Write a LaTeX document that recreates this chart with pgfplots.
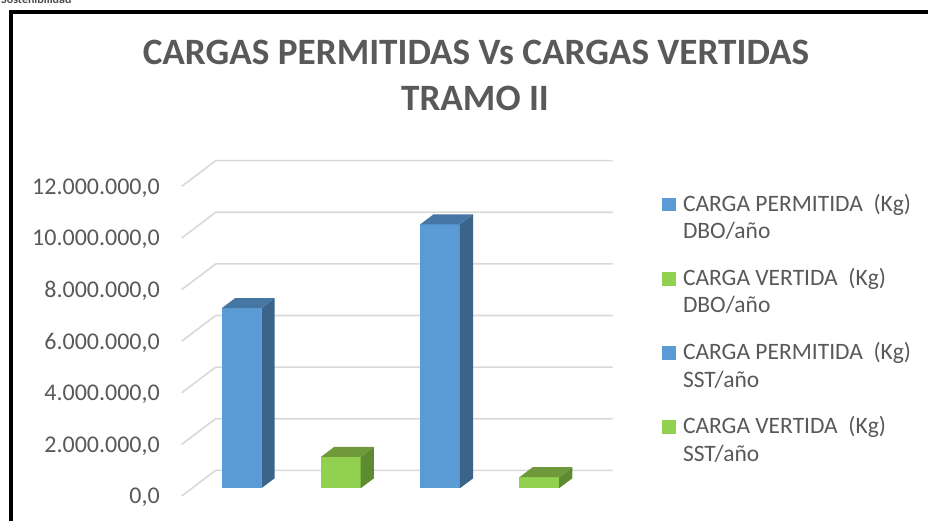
\documentclass[border=0pt]{standalone}
\usepackage{pgfplots}
\pgfplotsset{compat=1.18}
\usepackage{fontspec}
\setmainfont{Carlito}
\definecolor{txt}{HTML}{595959}
\definecolor{gridc}{HTML}{D9D9D9}
\definecolor{bluef}{HTML}{5B9BD5}
\definecolor{blues}{HTML}{3B6488}
\definecolor{bluet}{HTML}{4676A4}
\definecolor{greenf}{HTML}{92D050}
\definecolor{greens}{HTML}{5E8B2F}
\definecolor{greent}{HTML}{70993B}

% 3D-looking column: #1 left x (px), #2 value (millions), #3 front, #4 side, #5 top
\newcommand\threedbar[5]{%
  \pgfmathsetmacro\xa{#1}%
  \pgfmathsetmacro\xb{#1+39.6}%
  \pgfmathsetmacro\xc{#1+39.6+13.3}%
  \pgfmathsetmacro\xd{#1+13.3}%
  \pgfmathsetmacro\ya{0.298}%
  \pgfmathsetmacro\yb{0.298+0.388}%
  \pgfmathsetmacro\yt{0.298+#2}%
  \pgfmathsetmacro\ytt{0.298+0.388+#2}%
  \edef\doit{%
    \noexpand\addplot[forget plot, fill=#3, draw=none] coordinates {(\xa,\ya) (\xb,\ya) (\xb,\yt) (\xa,\yt)} -- cycle;
    \noexpand\addplot[forget plot, fill=#4, draw=none] coordinates {(\xb,\ya) (\xc,\yb) (\xc,\ytt) (\xb,\yt)} -- cycle;
    \noexpand\addplot[forget plot, fill=#5, draw=none] coordinates {(\xa,\yt) (\xb,\yt) (\xc,\ytt) (\xd,\ytt)} -- cycle;
  }\doit}

\begin{document}
\begin{tikzpicture}
\useasboundingbox (0pt,0pt) rectangle (928pt,521pt);
\clip (0pt,0pt) rectangle (928pt,521pt);
\fill[white] (0pt,0pt) rectangle (928pt,521pt);
\begin{axis}[
  at={(0pt,0pt)}, anchor=south west,
  scale only axis, width=928pt, height=521pt,
  xmin=0, xmax=928, ymin=-0.969, ymax=19.225,
  clip=false,
  axis line style={draw=none},
  xtick=\empty,
  ytick={0,2,4,6,8,10,12},
  yticklabels={{0,0},{2.000.000,0},{4.000.000,0},{6.000.000,0},{8.000.000,0},{10.000.000,0},{12.000.000,0}},
  major tick length=0pt,
  yticklabel style={anchor=east, inner sep=0pt, xshift=160pt, yshift=-1.5pt,
    font=\fontsize{24}{28}\selectfont, text=txt},
  legend style={at={(rel axis cs:0.71336,0.63493)}, anchor=north west,
    draw=none, fill=none, inner sep=0pt, outer sep=0pt, row sep=49.6pt,
    font=\fontsize{23.5}{27.3}\selectfont, text=txt,
    cells={anchor=base west, inner sep=0pt},
    /tikz/every odd column/.style={column sep=5pt}},
  legend image code/.code={\fill[#1] (0pt,0pt) rectangle (14pt,13.5pt);},
]
\addlegendimage{fill=bluef, draw=none}
\addlegendentry{\begin{tabular}[t]{@{}l@{}}CARGA PERMITIDA\ \ (Kg)\\DBO/año\end{tabular}}
\addlegendimage{fill=greenf, draw=none}
\addlegendentry{\begin{tabular}[t]{@{}l@{}}CARGA VERTIDA\ \ (Kg)\\DBO/año\end{tabular}}
\addlegendimage{fill=bluef, draw=none}
\addlegendentry{\begin{tabular}[t]{@{}l@{}}CARGA PERMITIDA\ \ (Kg)\\SST/año\end{tabular}}
\addlegendimage{fill=greenf, draw=none}
\addlegendentry{\begin{tabular}[t]{@{}l@{}}CARGA VERTIDA\ \ (Kg)\\SST/año\end{tabular}}

% gridlines: front-left diagonal plus back wall
\pgfplotsinvokeforeach{0,2,...,12}{%
  \pgfmathsetmacro\yg{#1+0.996}%
  \edef\doit{\noexpand\addplot[forget plot, gridc, line width=1.6pt] coordinates {(181.7,#1) (215.7,\yg) (612.7,\yg)};}\doit
}

% bars (values in millions of kg/year)
\threedbar{221.7}{6.98}{bluef}{blues}{bluet}
\threedbar{321.0}{1.22}{greenf}{greens}{greent}
\threedbar{420.2}{10.23}{bluef}{blues}{bluet}
\threedbar{519.4}{0.43}{greenf}{greens}{greent}
\end{axis}

% title
\node[anchor=base, text=txt, font=\fontsize{37.2}{46}\selectfont\bfseries] at (476pt,456pt) {CARGAS PERMITIDAS Vs CARGAS VERTIDAS};
\node[anchor=base, text=txt, font=\fontsize{37.2}{46}\selectfont\bfseries] at (475pt,410pt) {TRAMO II};
% chart frame
\draw[line width=4.5pt, black] (10.8pt,-30pt) -- (10.8pt,509pt) -- (960pt,509pt);
% cut-off caption above the frame
\node[anchor=base west, inner sep=0pt, text=black!70, font=\fontsize{12}{14}\selectfont\bfseries] at (1pt,517.5pt) {Sostenibilidad};
\end{tikzpicture}
\end{document}
